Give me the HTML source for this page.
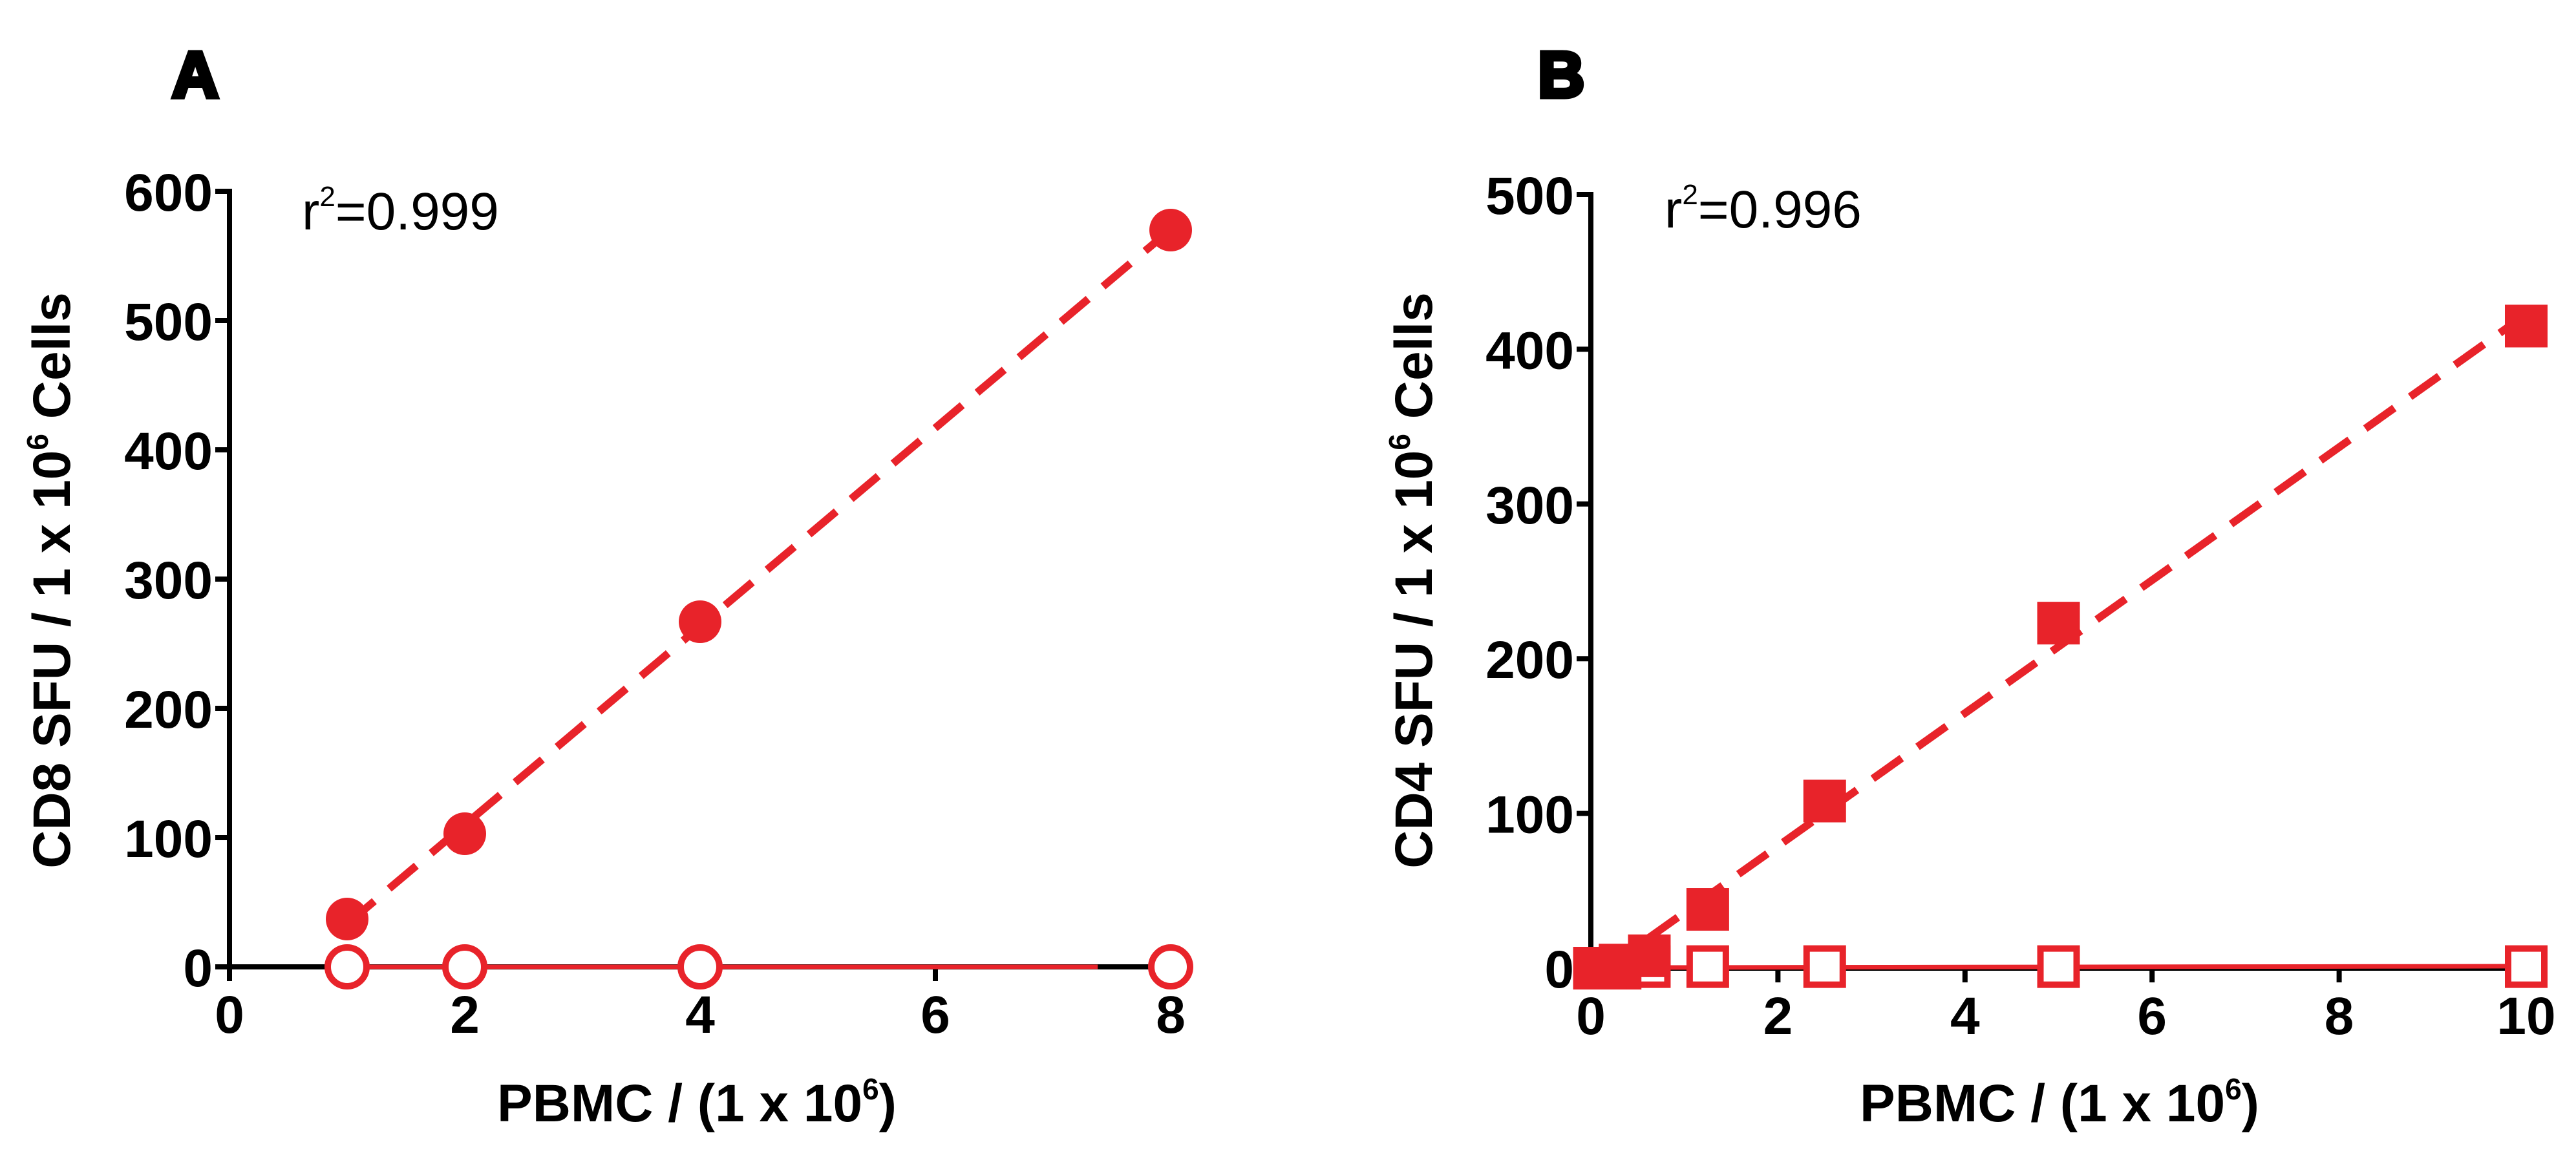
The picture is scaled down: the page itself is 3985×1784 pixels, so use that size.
<!DOCTYPE html>
<html><head><meta charset="utf-8"><style>
html,body{margin:0;padding:0;background:#fff;}
svg{display:block;}
text{font-family:"Liberation Sans",Arial,sans-serif;}
</style></head><body>
<svg id="chart" width="3985" height="1784" viewBox="0 0 3985 1784" xmlns="http://www.w3.org/2000/svg">
<text x="266" y="150" font-size="100" font-weight="900" stroke="#000" stroke-width="7">A</text>
<text x="2379" y="150" font-size="100" font-weight="900" stroke="#000" stroke-width="7">B</text>
<text x="467" y="355" font-size="82">r<tspan font-size="44" dy="-36">2</tspan><tspan dy="36">=0.999</tspan></text>
<text x="2575" y="352" font-size="82">r<tspan font-size="44" dy="-36">2</tspan><tspan dy="36">=0.996</tspan></text>
<text transform="translate(108,898) rotate(-90)" text-anchor="middle" font-size="82" font-weight="bold">CD8 SFU / 1 x 10<tspan font-size="46" dy="-34">6</tspan><tspan dy="34"> Cells</tspan></text>
<text transform="translate(2215,898) rotate(-90)" text-anchor="middle" font-size="82" font-weight="bold">CD4 SFU / 1 x 10<tspan font-size="46" dy="-34">6</tspan><tspan dy="34"> Cells</tspan></text>
<text x="1078" y="1735" text-anchor="middle" font-size="82" font-weight="bold">PBMC / (1 x 10<tspan font-size="46" dy="-34">6</tspan><tspan dy="34">)</tspan></text>
<text x="3186" y="1735" text-anchor="middle" font-size="82" font-weight="bold">PBMC / (1 x 10<tspan font-size="46" dy="-34">6</tspan><tspan dy="34">)</tspan></text>
<g id="pa"></g><g id="pb"></g>
</svg>
<script>
const aX = [1, 2, 4, 8];
const aFilled = [37, 103, 267, 570];
const aOpen = [0, 0, 0, 0];
const aXTicks = [0, 2, 4, 6, 8];
const aYTicks = [0, 100, 200, 300, 400, 500, 600];

const bX = [0.039, 0.078, 0.156, 0.3125, 0.625, 1.25, 2.5, 5, 10];
const bFilled = [0, 0, 0, 2, 8, 38, 108, 223, 415];
const bOpen = [0, 0, 0, 0, 1, 1, 1, 1, 1];
const bXTicks = [0, 2, 4, 6, 8, 10];
const bYTicks = [0, 100, 200, 300, 400, 500];

const NS = "http://www.w3.org/2000/svg";
const RED = "#e8232a";
function mk(parent, tag, attrs) {
  const e = document.createElementNS(NS, tag);
  for (const k in attrs) e.setAttribute(k, attrs[k]);
  parent.appendChild(e);
  return e;
}
function fit(xs, ys) {
  const n = xs.length;
  const mx = xs.reduce((a, b) => a + b, 0) / n, my = ys.reduce((a, b) => a + b, 0) / n;
  let sxy = 0, sxx = 0;
  for (let i = 0; i < n; i++) { sxy += (xs[i] - mx) * (ys[i] - my); sxx += (xs[i] - mx) ** 2; }
  const b = sxy / sxx; return [my - b * mx, b];
}
function panel(g, o) {
  const sx = v => o.x0 + (v - o.xmin) / (o.xmax - o.xmin) * (o.x1 - o.x0);
  const sy = v => o.y0 - v / o.ymax * (o.y0 - o.y1);
  let e = mk(g, "line", {x1: o.x0, y1: o.y0 + 4, x2: o.x0, y2: o.y1 - 4, stroke: "#000", "stroke-width": 8});
  
  
  e = mk(g, "line", {x1: o.x0 - 4, y1: o.y0, x2: o.x1 + 4, y2: o.y0, stroke: "#000", "stroke-width": 8});
  
  
  o.yt.forEach(v => {
    const y = sy(v);
    mk(g, "line", {x1: o.x0 - 22, y1: y, x2: o.x0, y2: y, stroke: "#000", "stroke-width": 8});
    const t = mk(g, "text", {x: o.x0 - 26, y: y + 30, "text-anchor": "end", "font-size": 82, "font-weight": "bold"});
    t.textContent = v;
    
    
  });
  o.xt.forEach(v => {
    const x = sx(v);
    mk(g, "line", {x1: x, y1: o.y0, x2: x, y2: o.y0 + 22, stroke: "#000", "stroke-width": 8});
    const t = mk(g, "text", {x: x, y: o.y0 + 102, "text-anchor": "middle", "font-size": 82, "font-weight": "bold"});
    t.textContent = v;
    
    
  });
  const [oa, ob] = fit(o.xs, o.open);
  e = mk(g, "line", {x1: sx(o.xs[0]), y1: sy(oa + ob * o.xs[0]), x2: sx(o.openEnd), y2: sy(oa + ob * o.openEnd), stroke: RED, "stroke-width": 7});
  
  
  const [fa, fb] = fit(o.xs, o.filled);
  const xs0 = o.fitStart, xs1 = o.xs[o.xs.length - 1];
  e = mk(g, "line", {x1: sx(xs0), y1: sy(Math.max(0, fa + fb * xs0)), x2: sx(xs1), y2: sy(fa + fb * xs1), stroke: RED, "stroke-width": 12, "stroke-dasharray": "55 30"});
  
  
  o.xs.forEach((v, i) => {
    const x = sx(v), y = sy(o.open[i]);
    let m;
    if (o.shape === "circle") m = mk(g, "circle", {cx: x, cy: y, r: 30, fill: "#fff", stroke: RED, "stroke-width": 10});
    else m = mk(g, "rect", {x: x - 28, y: y - 28, width: 56, height: 56, fill: "#fff", stroke: RED, "stroke-width": 10});
    
    
  });
  o.xs.forEach((v, i) => {
    const x = sx(v), y = sy(o.filled[i]);
    let m;
    if (o.shape === "circle") m = mk(g, "circle", {cx: x, cy: y, r: 33, fill: RED});
    else m = mk(g, "rect", {x: x - 33, y: y - 33, width: 66, height: 66, fill: RED});
    
    
  });
}
panel(document.getElementById("pa"), {p: "panel-a", x0: 355, x1: 1811, xmin: 0, xmax: 8, y0: 1496, y1: 296, ymax: 600,
  xs: aX, filled: aFilled, open: aOpen, xt: aXTicks, yt: aYTicks, shape: "circle", openEnd: 7.38, fitStart: 1});
panel(document.getElementById("pb"), {p: "panel-b", x0: 2461, x1: 3908, xmin: 0, xmax: 10, y0: 1498, y1: 301, ymax: 500,
  xs: bX, filled: bFilled, open: bOpen, xt: bXTicks, yt: bYTicks, shape: "square", openEnd: 10, fitStart: 0.62});
</script>
</body></html>
